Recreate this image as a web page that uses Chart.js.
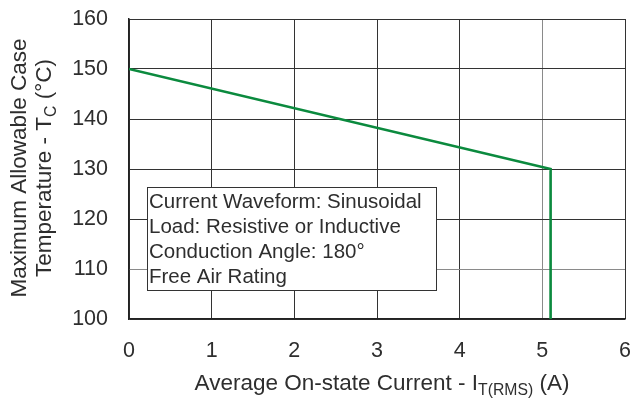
<!DOCTYPE html>
<html>
<head>
<meta charset="utf-8">
<script src="https://cdn.jsdelivr.net/npm/chart.js@4"></script>
<style>
  html, body { margin: 0; padding: 0; background: #fff; }
  #wrap { width: 632px; height: 402px; }
</style>
</head>
<body>
<div id="wrap"><canvas id="myChart" width="632" height="402"></canvas></div>
<script>
// datos
var currentA = [0, 5.1, 5.1];
var caseTempC = [150, 130, 100];
var xTicks = [0, 1, 2, 3, 4, 5, 6];
var yTicks = [100, 110, 120, 130, 140, 150, 160];
var noteLines = [
    'Current Waveform: Sinusoidal',
    'Load: Resistive or Inductive',
    'Conduction Angle: 180°',
    'Free Air Rating'
];

var FONT = '"Liberation Sans", Arial, sans-serif';
var TEXT = '#2e2e2e';

// dibuja texto con subindice, devuelve ancho
function subText(ctx, parts, x, y, size, measureOnly) {
    var w = 0;
    parts.forEach(function (p) {
        var s = p.sub ? size * 0.7 : size;
        ctx.font = s + 'px ' + FONT;
        if (!measureOnly) ctx.fillText(p.t, x + w, y + (p.sub ? size * 0.28 : 0));
        w += ctx.measureText(p.t).width;
    });
    return w;
}

var titlesPlugin = {
    id: 'titles',
    afterDraw: function (chart) {
        var ctx = chart.ctx;
        var area = chart.chartArea;
        ctx.save();
        ctx.fillStyle = TEXT;
        ctx.textBaseline = 'middle';
        ctx.textAlign = 'left';

        // titulo eje x
        var xParts = [{ t: 'Average On-state Current - I' }, { t: 'T(RMS)', sub: true }, { t: ' (A)' }];
        var w = subText(ctx, xParts, 0, 0, 22.5, true);
        subText(ctx, xParts, 382 - w / 2, 384, 22.5);

        // titulo eje y (dos lineas, rotado)
        ctx.translate(0, 168);
        ctx.rotate(-Math.PI / 2);
        var l1 = [{ t: 'Maximum Allowable Case' }];
        var l2 = [{ t: 'Temperature - T' }, { t: 'C', sub: true }, { t: ' (°C)' }];
        var w1 = subText(ctx, l1, 0, 0, 22.5, true);
        subText(ctx, l1, -w1 / 2, 20, 22.5);
        var w2 = subText(ctx, l2, 0, 0, 22.5, true);
        subText(ctx, l2, -w2 / 2, 45, 22.5);
        ctx.restore();

        // recuadro de condiciones
        var bx = 147, by = 187, bw = 289, bh = 103;
        ctx.save();
        ctx.fillStyle = '#fff';
        ctx.fillRect(bx, by, bw, bh);
        ctx.strokeStyle = '#333';
        ctx.lineWidth = 1;
        ctx.strokeRect(bx + 0.5, by + 0.5, bw, bh);
        ctx.fillStyle = TEXT;
        ctx.font = '20.5px ' + FONT;
        ctx.textBaseline = 'middle';
        noteLines.forEach(function (line, i) {
            ctx.fillText(line, bx + 2, by + 15 + i * 25);
        });
        ctx.restore();
    }
};

var ctx = document.getElementById('myChart').getContext('2d');
var myChart = new Chart(ctx, {
    type: 'line',
    data: {
        datasets: [{
            data: currentA.map(function (x, i) { return { x: x, y: caseTempC[i] }; }),
            borderColor: '#0b8a3e',
            borderWidth: 2.6,
            pointRadius: 0,
            fill: false,
            tension: 0
        }]
    },
    options: {
        responsive: false,
        animation: false,
        layout: { padding: { left: 0, right: 7, top: 19, bottom: 0 } },
        plugins: {
            legend: { display: false },
            tooltip: { enabled: false }
        },
        scales: {
            x: {
                type: 'linear',
                min: 0,
                max: 6,
                afterBuildTicks: function (s) { s.ticks = xTicks.map(function (v) { return { value: v }; }); },
                afterFit: function (s) { s.height = 83; s.paddingLeft = 0; s.paddingRight = 0; },
                grid: {
                    drawTicks: false,
                    color: function (c) { return c.tick && c.tick.value === 5 ? '#8a8a8a' : '#333'; },
                    lineWidth: 1
                },
                border: { color: '#222', width: 1.5 },
                ticks: {
                    padding: 19,
                    color: TEXT,
                    font: { family: FONT, size: 21.5 },
                    maxRotation: 0
                }
            },
            y: {
                min: 100,
                max: 160,
                afterBuildTicks: function (s) { s.ticks = yTicks.map(function (v) { return { value: v }; }); },
                afterFit: function (s) { s.width = 129; s.paddingTop = 0; s.paddingBottom = 0; },
                grid: {
                    drawTicks: false,
                    color: function (c) { return c.tick && c.tick.value === 110 ? '#8a8a8a' : '#333'; },
                    lineWidth: 1
                },
                border: { color: '#222', width: 1.5 },
                ticks: {
                    padding: 21,
                    color: TEXT,
                    font: { family: FONT, size: 21.5 }
                }
            }
        }
    },
    plugins: [titlesPlugin]
});
</script>
</body>
</html>
